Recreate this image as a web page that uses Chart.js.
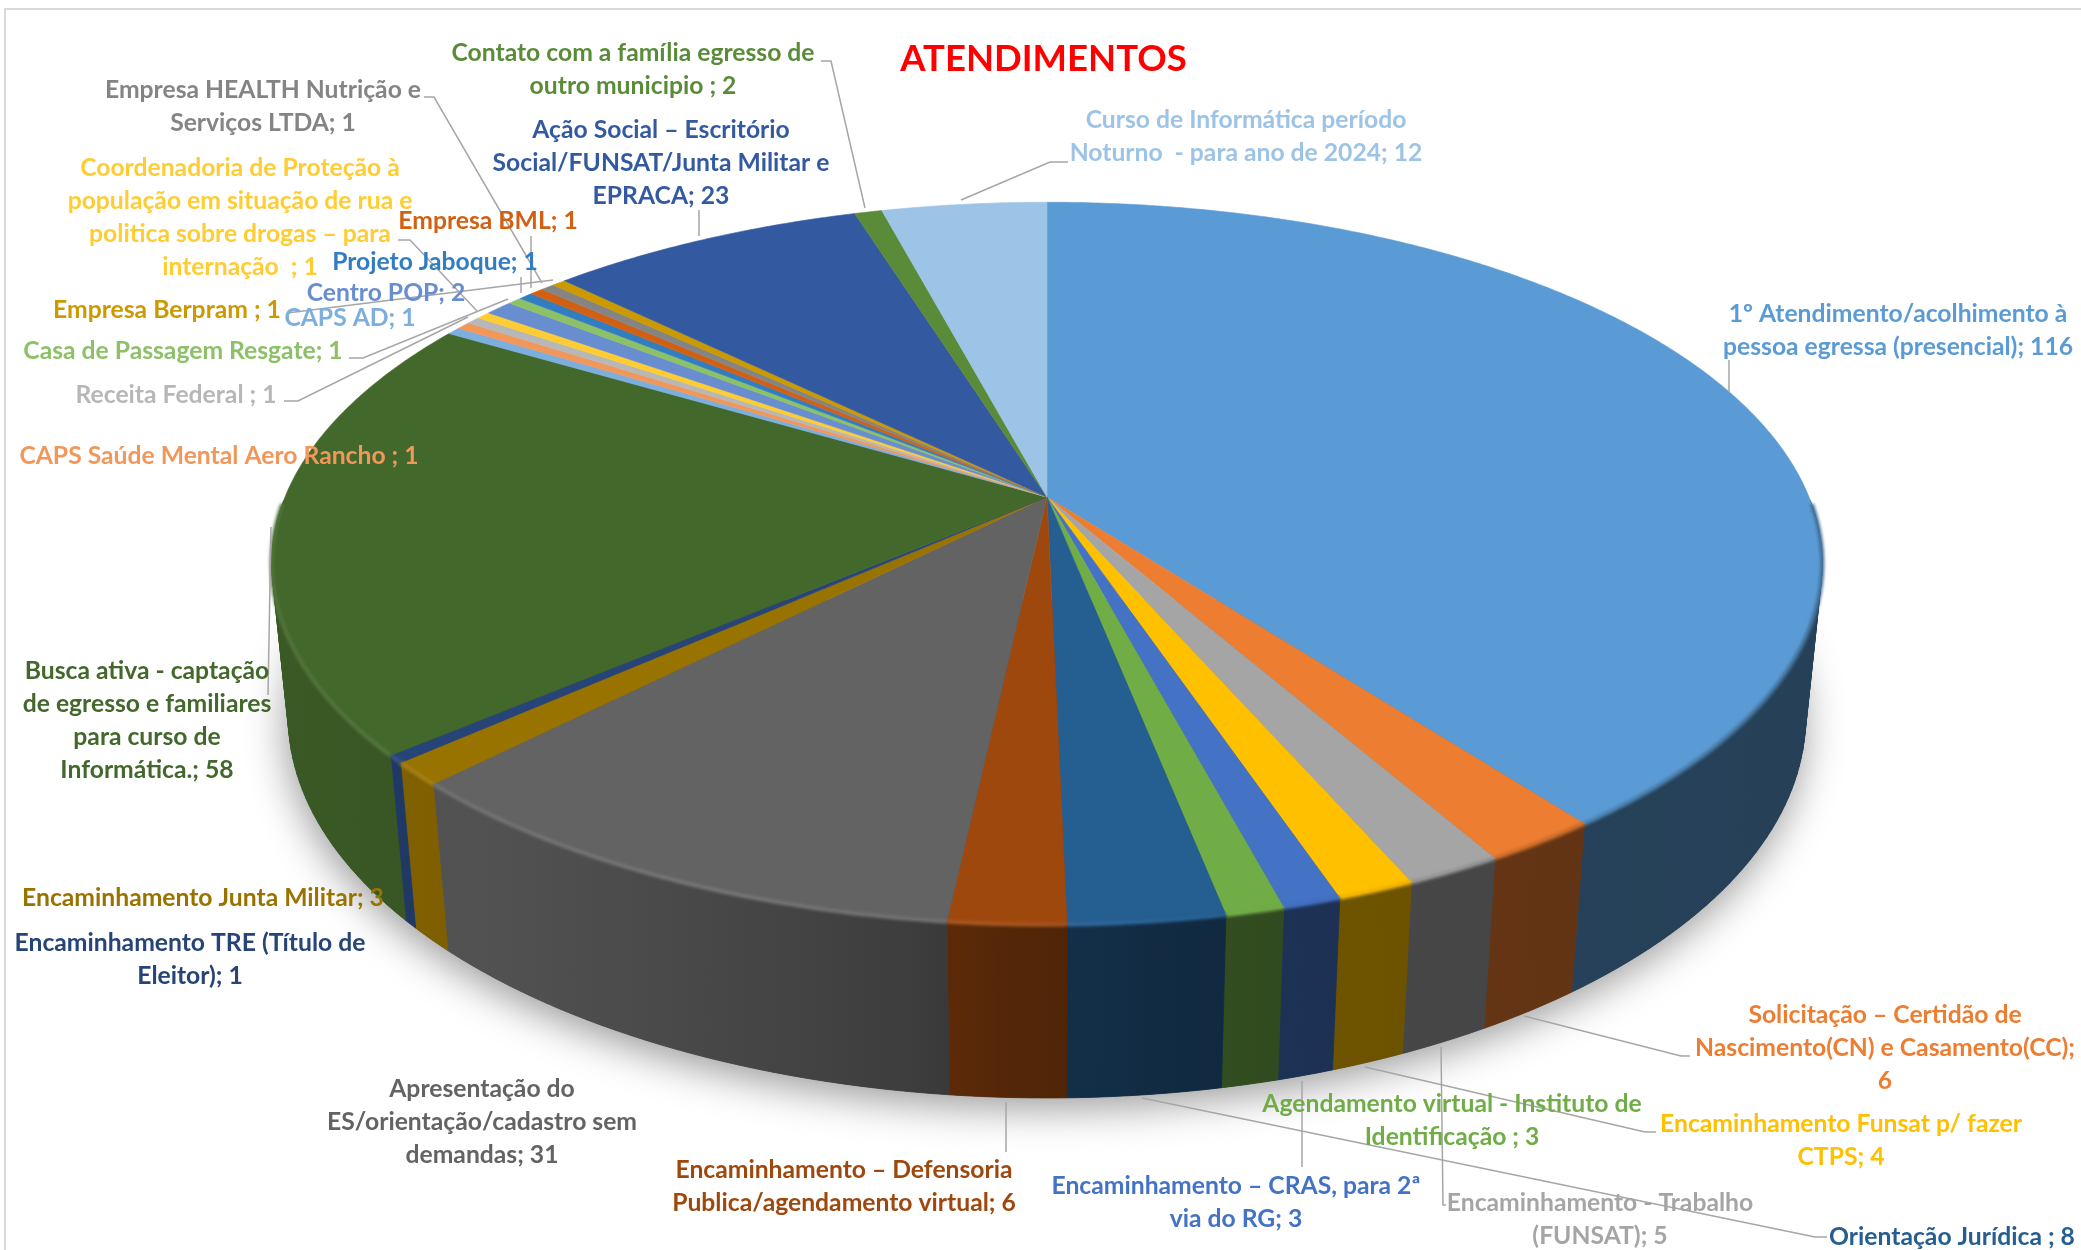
<!DOCTYPE html>
<html lang="pt-BR">
<head>
<meta charset="utf-8">
<title>Atendimentos</title>
<script src="https://cdn.jsdelivr.net/npm/chart.js@4/dist/chart.umd.min.js"></script>
<style>
  html, body { margin: 0; padding: 0; background: #fff; overflow: hidden; }
  canvas { display: block; }
</style>
</head>
<body>
<canvas id="grafico" width="2081" height="1250"></canvas>
<script>
// Dados
const categorias = [
  '1º Atendimento/acolhimento à pessoa egressa (presencial)',
  'Solicitação – Certidão de Nascimento(CN) e Casamento(CC)',
  'Encaminhamento - Trabalho (FUNSAT)',
  'Encaminhamento Funsat p/ fazer CTPS',
  'Encaminhamento – CRAS, para 2ª via do RG',
  'Agendamento virtual - Instituto de Identificação',
  'Orientação Jurídica',
  'Encaminhamento – Defensoria Publica/agendamento virtual',
  'Apresentação do ES/orientação/cadastro sem demandas',
  'Encaminhamento Junta Militar',
  'Encaminhamento TRE (Título de Eleitor)',
  'Busca ativa - captação de egresso e familiares para curso de Informática.',
  'CAPS AD',
  'CAPS Saúde Mental Aero Rancho',
  'Receita Federal',
  'Coordenadoria de Proteção à população em situação de rua e politica sobre drogas – para internação',
  'Centro POP',
  'Casa de Passagem Resgate',
  'Projeto Jaboque',
  'Empresa BML',
  'Empresa HEALTH Nutrição e Serviços LTDA',
  'Empresa Berpram',
  'Ação Social – Escritório Social/FUNSAT/Junta Militar e EPRACA',
  'Contato com a família egresso de outro municipio',
  'Curso de Informática período Noturno - para ano de 2024'
];
const valores = [116, 6, 5, 4, 3, 3, 8, 6, 31, 3, 1, 58, 1, 1, 1, 1, 2, 1, 1, 1, 1, 1, 23, 2, 12];
const cores = [
  '#5B9BD5', '#ED7D31', '#A5A5A5', '#FFC000', '#4472C4', '#70AD47', '#255E91', '#9E480E', '#636363',
  '#997300', '#264478', '#43682B', '#7CAFDD', '#F1975A', '#B7B7B7', '#FFCD33', '#698ED0', '#8CC168',
  '#327DC2', '#D26012', '#848484', '#CC9A00', '#335AA1', '#5A8B39', '#9DC3E6'
];
const rotulos = [
  ['1º Atendimento/acolhimento à', 'pessoa egressa (presencial); 116'],
  ['Solicitação – Certidão de', 'Nascimento(CN) e Casamento(CC);', '6'],
  ['Encaminhamento - Trabalho', '(FUNSAT); 5'],
  ['Encaminhamento Funsat p/ fazer', 'CTPS; 4'],
  ['Encaminhamento – CRAS, para 2ª', 'via do RG; 3'],
  ['Agendamento virtual - Instituto de', 'Identificação ; 3'],
  ['Orientação Jurídica ; 8'],
  ['Encaminhamento – Defensoria', 'Publica/agendamento virtual; 6'],
  ['Apresentação do', 'ES/orientação/cadastro sem', 'demandas; 31'],
  ['Encaminhamento Junta Militar; 3'],
  ['Encaminhamento TRE (Título de', 'Eleitor); 1'],
  ['Busca ativa - captação', 'de egresso e familiares', 'para curso de', 'Informática.; 58'],
  ['CAPS AD; 1'],
  ['CAPS Saúde Mental Aero Rancho ; 1'],
  ['Receita Federal ; 1'],
  ['Coordenadoria de Proteção à', 'população em situação de rua e', 'politica sobre drogas – para', 'internação  ; 1'],
  ['Centro POP; 2'],
  ['Casa de Passagem Resgate; 1'],
  ['Projeto Jaboque; 1'],
  ['Empresa BML; 1'],
  ['Empresa HEALTH Nutrição e', 'Serviços LTDA; 1'],
  ['Empresa Berpram ; 1'],
  ['Ação Social – Escritório', 'Social/FUNSAT/Junta Militar e', 'EPRACA; 23'],
  ['Contato com a família egresso de', 'outro municipio ; 2'],
  ['Curso de Informática período', 'Noturno  - para ano de 2024; 12']
];
// centro x e y da primeira linha de cada rótulo
const posRotulos = [
  [1898, 314], [1885, 1015], [1600, 1203], [1841, 1124], [1236, 1186], [1452, 1104], [1952, 1237],
  [844, 1170], [482, 1089], [203, 898], [190, 943], [147, 671], [350, 318], [219, 456], [176, 395],
  [240, 168], [386, 293], [183, 351], [435, 262], [488, 221], [263, 90], [167, 310], [661, 130],
  [633, 53], [1246, 120]
];
// linhas de chamada
const guias = [
  [[1729, 360], [1729, 392]],
  [[1524, 1016], [1681, 1056], [1690, 1056]],
  [[1441, 1047], [1443, 1205], [1446, 1205]],
  [[1365, 1067], [1645, 1132], [1656, 1132]],
  [[1302, 1081], [1302, 1167]],
  [[1142, 1098], [1815, 1237], [1827, 1237]],
  [[1006, 1102], [1006, 1152]],
  [[271, 527], [268, 695]],
  [[284, 401], [298, 401], [468, 317]],
  [[398, 240], [410, 240], [477, 311]],
  [[349, 358], [363, 358], [508, 299]],
  [[521, 277], [521, 293]],
  [[531, 236], [531, 288]],
  [[424, 97], [434, 97], [542, 283]],
  [[287, 313], [553, 280]],
  [[699, 210], [699, 236]],
  [[821, 61], [831, 61], [865, 208]],
  [[1068, 162], [1050, 162], [961, 200]]
];

// Projeção em perspectiva do disco (topo e base)
const cx = 1047, cy = 497;
const raio = 762, escalaY = 349, fuga = 0.184;
const descidaBase = 154, wBase = 1.021;

function projeta(a, base) {
  const X = Math.cos(a), Y = Math.sin(a);
  const w = (base ? wBase : 1) - fuga * Y;
  return [cx + raio * X / w, cy + (escalaY * Y + (base ? descidaBase : 0)) / w];
}

function arco(ctx, ini, fim, base, inicio) {
  const n = Math.max(2, Math.ceil((fim - ini) / 0.008));
  for (let i = 0; i <= n; i++) {
    const p = projeta(ini + (fim - ini) * i / n, base);
    if (i === 0 && inicio) ctx.moveTo(p[0], p[1]);
    else ctx.lineTo(p[0], p[1]);
  }
}

function tom(hex, f) {
  const c = [1, 3, 5].map(i => parseInt(hex.substr(i, 2), 16));
  const v = c.map(x => Math.round(f <= 1 ? x * f : x + (255 - x) * (f - 1)));
  return `rgb(${v[0]},${v[1]},${v[2]})`;
}

// sombreamento da parede conforme a posição horizontal
const luzParede = [[272, .86], [500, .82], [700, .73], [900, .63], [1000, .54], [1150, .46], [1300, .43], [1822, .41]];
const luzBorda = [[272, 1.08], [700, 1.12], [1000, 1.08], [1150, 1.03], [1300, .96], [1500, .85], [1822, .7]];

function gradiente(ctx, cor, luz) {
  const g = ctx.createLinearGradient(272, 0, 1822, 0);
  luz.forEach(p => g.addColorStop((p[0] - 272) / 1550, tom(cor, p[1])));
  return g;
}

const pizza3d = {
  id: 'pizza3d',
  beforeDraw(chart) {
    const ctx = chart.ctx;
    ctx.save();
    ctx.strokeStyle = '#D9D9D9';
    ctx.lineWidth = 2;
    ctx.strokeRect(5, 9, 2300, 1400);
    ctx.restore();
  },
  // desenha as fatias usando os ângulos calculados pelo próprio Chart.js
  beforeDatasetsDraw(chart) {
    const ctx = chart.ctx;
    const arcos = chart.getDatasetMeta(0).data;

    // sombra só abaixo da parte mais larga do disco
    ctx.save();
    ctx.beginPath();
    ctx.rect(0, 600, chart.width, chart.height - 600);
    ctx.clip();
    ctx.shadowColor = 'rgba(0,0,0,0.4)';
    ctx.shadowBlur = 40;
    ctx.shadowOffsetX = -2;
    ctx.shadowOffsetY = 10;
    ctx.fillStyle = '#444';
    ctx.beginPath();
    arco(ctx, 0, Math.PI * 2, true, true);
    ctx.closePath();
    ctx.fill();
    ctx.restore();

    // paredes: só a parte voltada para a frente, em tiras curtas
    arcos.forEach((el, i) => {
      const g = gradiente(ctx, cores[i], luzParede);
      const passo = 0.02;
      ctx.fillStyle = g;
      ctx.strokeStyle = g;
      ctx.lineWidth = 0.8;
      for (let a = el.startAngle; a < el.endAngle; a += passo) {
        const b = Math.min(a + passo, el.endAngle);
        if (Math.sin(a) < 0 || Math.sin(b) < 0) continue;
        const p = [projeta(a, false), projeta(b, false), projeta(b, true), projeta(a, true)];
        ctx.beginPath();
        p.forEach((q, j) => j ? ctx.lineTo(q[0], q[1]) : ctx.moveTo(q[0], q[1]));
        ctx.closePath();
        ctx.fill();
        ctx.stroke();
      }
    });

    // topo
    arcos.forEach((el, i) => {
      ctx.beginPath();
      ctx.moveTo(cx, cy);
      arco(ctx, el.startAngle, el.endAngle, false, false);
      ctx.closePath();
      ctx.fillStyle = cores[i];
      ctx.strokeStyle = cores[i];
      ctx.lineWidth = 0.6;
      ctx.fill();
      ctx.stroke();
    });

    // chanfro na borda da frente
    ctx.save();
    ctx.filter = 'blur(1.5px)';
    ctx.lineWidth = 4;
    arcos.forEach((el, i) => {
      const ini = Math.max(el.startAngle, 0.02), fim = Math.min(el.endAngle, Math.PI - 0.02);
      if (fim <= ini) return;
      ctx.beginPath();
      arco(ctx, ini, fim, false, true);
      ctx.strokeStyle = gradiente(ctx, cores[i], luzBorda);
      ctx.stroke();
    });
    ctx.restore();

    // linhas de chamada
    ctx.save();
    ctx.strokeStyle = '#A6A6A6';
    ctx.lineWidth = 1.5;
    guias.forEach(g => {
      ctx.beginPath();
      g.forEach((p, j) => j ? ctx.lineTo(p[0], p[1]) : ctx.moveTo(p[0], p[1]));
      ctx.stroke();
    });
    ctx.restore();

    // rótulos
    ctx.save();
    ctx.font = 'bold 24.7px Lato';
    ctx.textAlign = 'center';
    ctx.textBaseline = 'middle';
    rotulos.forEach((linhas, i) => {
      ctx.fillStyle = cores[i];
      linhas.forEach((t, j) => ctx.fillText(t, posRotulos[i][0], posRotulos[i][1] + j * 33));
    });
    ctx.restore();
    return false;
  }
};

const grafico = new Chart(document.getElementById('grafico').getContext('2d'), {
  type: 'pie',
  data: {
    labels: categorias,
    datasets: [{ data: valores, backgroundColor: cores, borderWidth: 0 }]
  },
  options: {
    responsive: false,
    animation: false,
    layout: { padding: { left: 6 } },
    plugins: {
      legend: { display: false },
      tooltip: { enabled: false },
      title: {
        display: true,
        text: 'ATENDIMENTOS',
        color: '#FF0000',
        font: { family: 'Lato', size: 36.5, weight: 'bold' },
        padding: { top: 37, bottom: 10 }
      }
    }
  },
  plugins: [pizza3d]
});
</script>
</body>
</html>
